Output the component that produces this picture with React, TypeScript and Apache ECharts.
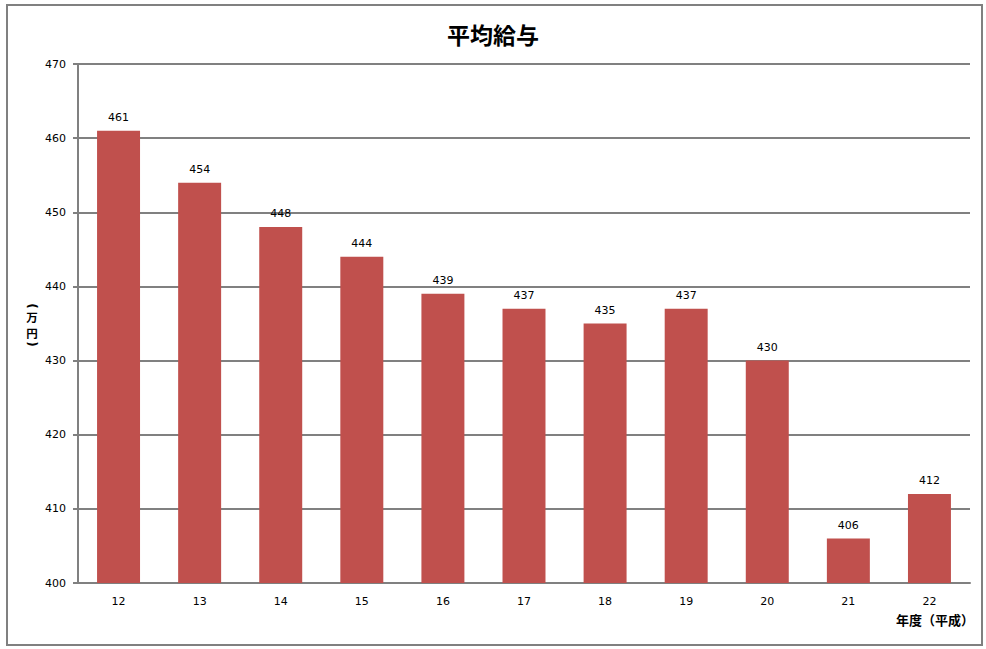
import React, { useEffect, useRef } from "react";
import * as echarts from "echarts";

const categories = ["12", "13", "14", "15", "16", "17", "18", "19", "20", "21", "22"];
const salaries = [461, 454, 448, 444, 439, 437, 435, 437, 430, 406, 412];
const chartTitle = "平均給与";
const yAxisNameChars = ["(", "万", "円", ")"];
const xAxisName = "年度（平成）";

export default function App() {
  const ref = useRef<HTMLDivElement>(null);
  useEffect(() => {
    if (!ref.current) return;
    const chart = echarts.init(ref.current, null, { renderer: "svg" });
    const font = "'DejaVu Sans', Verdana, sans-serif";
    const cjk = "'Noto Sans CJK JP', sans-serif";
    const yNameY = [306, 317, 333, 344];
    const yNameGraphics = yAxisNameChars.map((ch, i) => {
      const isParen = i === 0 || i === yAxisNameChars.length - 1;
      return {
        type: "text",
        x: 32,
        y: yNameY[i],
        rotation: isParen ? -Math.PI / 2 : 0,
        style: {
          text: ch,
          fontSize: isParen ? 12 : 11.5,
          fontWeight: "bold",
          fill: "#000",
          align: "center",
          verticalAlign: "middle",
          fontFamily: isParen ? font : cjk,
        },
      };
    });
    chart.setOption({
      animation: false,
      backgroundColor: "#ffffff",
      textStyle: { fontFamily: font },
      title: {
        text: chartTitle,
        left: "center",
        top: 17,
        textStyle: { fontSize: 23, fontWeight: "bold", color: "#000", fontFamily: cjk },
      },
      graphic: [
        {
          type: "rect",
          shape: { x: 7, y: 5, width: 975, height: 640 },
          style: { fill: "none", stroke: "#808080", lineWidth: 2 },
          silent: true,
        },
        ...yNameGraphics,
        {
          type: "text",
          x: 935,
          y: 619,
          style: {
            text: xAxisName,
            fontSize: 13,
            fontWeight: "bold",
            fill: "#000",
            align: "center",
            verticalAlign: "middle",
            fontFamily: cjk,
          },
        },
      ],
      grid: { left: 78, top: 64, right: 16, bottom: 66 },
      xAxis: {
        type: "category",
        data: categories,
        axisLine: { lineStyle: { color: "#808080", width: 2 } },
        axisTick: { show: false },
        axisLabel: { color: "#000", fontSize: 11, margin: 13, fontFamily: font },
      },
      yAxis: {
        type: "value",
        min: 400,
        max: 470,
        interval: 10,
        axisLine: { show: true, lineStyle: { color: "#808080", width: 2 } },
        axisTick: { show: true, length: 5, lineStyle: { color: "#808080", width: 2 } },
        axisLabel: { color: "#000", fontSize: 11, margin: 12, fontFamily: font },
        splitLine: { show: true, lineStyle: { color: "#808080", width: 2 } },
      },
      series: [
        {
          type: "bar",
          data: salaries,
          barWidth: "53%",
          itemStyle: { color: "#C0504D" },
          label: {
            show: true,
            position: "top",
            distance: 8,
            color: "#000",
            fontSize: 11,
            fontFamily: font,
          },
        },
      ],
    });
    return () => chart.dispose();
  }, []);
  return (
    <div
      ref={ref}
      style={{ position: "fixed", left: 0, top: 0, width: 986, height: 649 }}
    />
  );
}
